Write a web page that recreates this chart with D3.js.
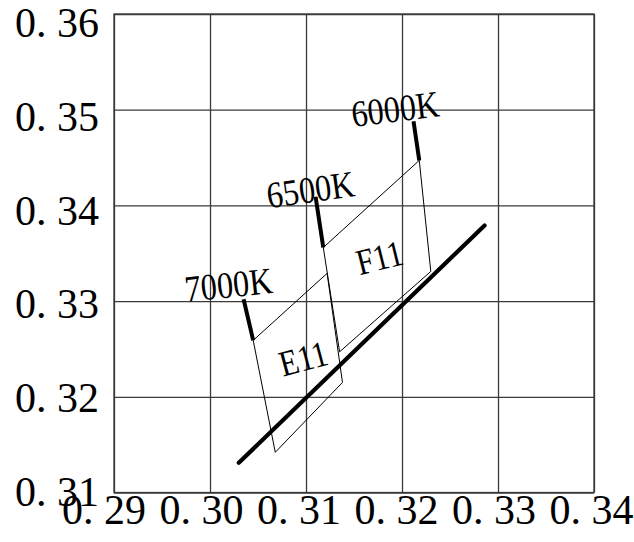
<!DOCTYPE html>
<html>
<head>
<meta charset="utf-8">
<script src="https://cdn.jsdelivr.net/npm/d3@7"></script>
<style>
  html, body { margin: 0; padding: 0; background: #fff; }
  svg { display: block; }
  text { font-family: "Liberation Serif", "DejaVu Serif", serif; fill: #000; }
</style>
</head>
<body>
<svg id="chart" width="634" height="542"></svg>
<script>
// ---- data ----
const xTicks = [0.29, 0.30, 0.31, 0.32, 0.33, 0.34];
const xTickLabels = ["0. 29", "0. 30", "0. 31", "0. 32", "0. 33", "0. 34"];
const yTicks = [0.31, 0.32, 0.33, 0.34, 0.35, 0.36];
const yTickLabels = ["0. 31", "0. 32", "0. 33", "0. 34", "0. 35", "0. 36"];

// isotemperature segments (thick), top -> bottom, in CIE x,y
const cctNames = ["7000K", "6500K", "6000K"];
const cctTop = [[0.3035, 0.3302], [0.3110, 0.3409], [0.3212, 0.3488]];
const cctBottom = [[0.3045, 0.3259], [0.3118, 0.3356], [0.3218, 0.3447]];
const cctLabelAt = [[0.2975, 0.3299], [0.3061, 0.3397], [0.3149, 0.3482]];

// tolerance quadrilaterals (thin)
const e11Corners = [[0.3045, 0.3259], [0.3122, 0.3329], [0.3138, 0.3215], [0.3068, 0.3142]];
const f11Corners = [[0.3118, 0.3356], [0.3218, 0.3447], [0.3230, 0.3331], [0.3135, 0.3247]];
const regionNames = ["E11", "F11"];
const regionLabelAt = [[0.3076, 0.3221], [0.3156, 0.3327]];

// thick reference (blackbody) line
const locusLine = [[0.3030, 0.3131], [0.3286, 0.3379]];

// ---- layout ----
const svg = d3.select("#chart");
const L = 114, R = 594, T = 14, B = 492.5;
const x = d3.scaleLinear().domain([0.29, 0.34]).range([L, R]);
const y = d3.scaleLinear().domain([0.31, 0.36]).range([B, T]);
// label placement scales (labels in the reference sit slightly off the grid lines)
const xl = d3.scaleLinear().domain([0.29, 0.34]).range([103.5, 591]);
const yl = d3.scaleLinear().domain([0.31, 0.36]).range([491.5, 22.5]);

const gridColor = "#3a3a3a";

// grid via axes
const gx = svg.append("g").attr("transform", `translate(0,${B})`)
  .call(d3.axisBottom(x).tickValues(xTicks).tickSize(-(B - T)).tickSizeOuter(0).tickFormat(""));
gx.select(".domain").remove();
gx.selectAll("line").attr("stroke", gridColor).attr("stroke-width", 1.3);

const gy = svg.append("g").attr("transform", `translate(${L},0)`)
  .call(d3.axisLeft(y).tickValues(yTicks).tickSize(-(R - L)).tickSizeOuter(0).tickFormat(""));
gy.select(".domain").remove();
gy.selectAll("line").attr("stroke", gridColor).attr("stroke-width", 1.3);

svg.append("rect").attr("x", L).attr("y", T).attr("width", R - L).attr("height", B - T)
  .attr("fill", "none").attr("stroke", gridColor).attr("stroke-width", 1.3);

// tick labels via axes
const lx = svg.append("g").attr("transform", "translate(0,0)")
  .call(d3.axisBottom(xl).tickValues(xTicks).tickSize(0).tickFormat((d, i) => xTickLabels[i]));
lx.select(".domain").remove();
lx.selectAll("text").attr("y", 524).attr("dy", null)
  .attr("font-family", "Liberation Serif, DejaVu Serif, serif").attr("font-size", 42)
  .attr("text-anchor", "middle").attr("fill", "#000");

const ly = svg.append("g").attr("transform", "translate(99,0)")
  .call(d3.axisLeft(yl).tickValues(yTicks).tickSize(0).tickPadding(0).tickFormat((d, i) => yTickLabels[i]));
ly.select(".domain").remove();
ly.selectAll("text").attr("dy", "14").attr("x", 0)
  .attr("font-family", "Liberation Serif, DejaVu Serif, serif").attr("font-size", 42)
  .attr("text-anchor", "end").attr("fill", "#000");

const line = d3.line().x(d => x(d[0])).y(d => y(d[1]));
const closed = d3.line().x(d => x(d[0])).y(d => y(d[1])).curve(d3.curveLinearClosed);

// thin quadrilaterals
svg.append("path").datum(e11Corners).attr("d", closed)
  .attr("fill", "none").attr("stroke", "#000").attr("stroke-width", 1);
svg.append("path").datum(f11Corners).attr("d", closed)
  .attr("fill", "none").attr("stroke", "#000").attr("stroke-width", 1);

// thick reference line
svg.append("path").datum(locusLine).attr("d", line)
  .attr("fill", "none").attr("stroke", "#000").attr("stroke-width", 4.2).attr("stroke-linecap", "round");

// thick isotemperature segments
svg.selectAll("path.cct").data(cctNames).enter().append("path").attr("class", "cct")
  .attr("d", (d, i) => line([cctTop[i], cctBottom[i]]))
  .attr("fill", "none").attr("stroke", "#000").attr("stroke-width", 4);

// CCT labels
const cctRot = [-6, -8, -7];
svg.selectAll("text.cctl").data(cctNames).enter().append("text").attr("class", "cctl")
  .attr("transform", (d, i) => `translate(${x(cctLabelAt[i][0])},${y(cctLabelAt[i][1])}) rotate(${cctRot[i]}) scale(0.9,1.04)`)
  .attr("font-size", 36).text(d => d);

// region labels
const regRot = [-15, -14];
svg.selectAll("text.reg").data(regionNames).enter().append("text").attr("class", "reg")
  .attr("transform", (d, i) => `translate(${x(regionLabelAt[i][0])},${y(regionLabelAt[i][1])}) rotate(${regRot[i]}) scale(0.88,1.04)`)
  .attr("font-size", 35).text(d => d);
</script>
</body>
</html>
